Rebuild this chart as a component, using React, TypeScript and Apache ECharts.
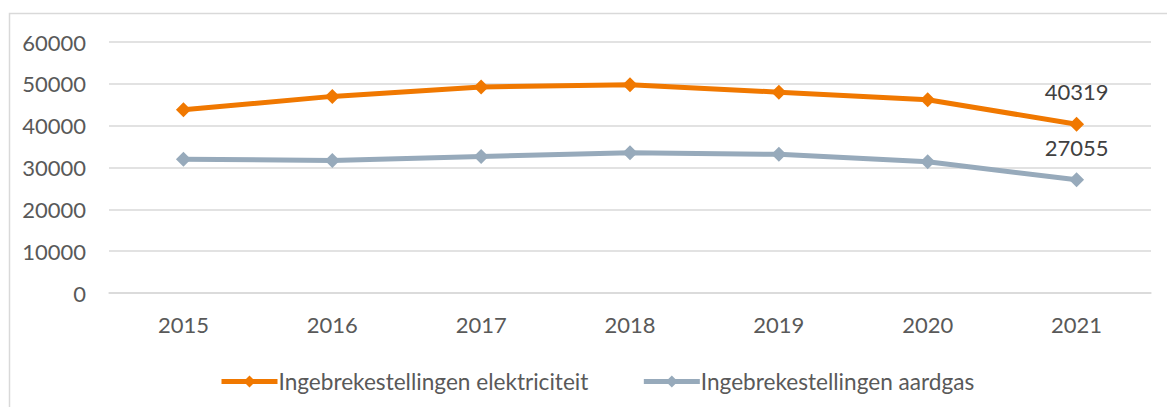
import React, { useEffect, useRef } from "react";
import * as echarts from "echarts";

const categories = ["2015", "2016", "2017", "2018", "2019", "2020", "2021"];
const elektriciteit = [43800, 47000, 49250, 49800, 48000, 46200, 40319];
const aardgas = [32000, 31700, 32650, 33550, 33150, 31380, 27055];
const seriesNames = ["Ingebrekestellingen elektriciteit", "Ingebrekestellingen aardgas"];

const FONT = "Lato, 'Open Sans', sans-serif";
const FS = 22;

export default function App() {
  const ref = useRef<HTMLDivElement>(null);
  useEffect(() => {
    if (!ref.current) return;
    const chart = echarts.init(ref.current, undefined, { renderer: "svg" });
    const lastLabel = (color: string) => ({
      show: true,
      position: "top",
      distance: 14,
      color,
      fontSize: FS,
      fontFamily: FONT,
      formatter: (p: any) => (p.dataIndex === categories.length - 1 ? String(p.value) : ""),
    });
    chart.setOption({
      animation: false,
      backgroundColor: "#ffffff",
      textStyle: { fontFamily: FONT },
      graphic: [
        {
          type: "rect",
          shape: { x: 9.5, y: 13.5, width: 1300, height: 600 },
          style: { fill: "none", stroke: "#d9d9d9", lineWidth: 1.5 },
          silent: true,
        },
      ],
      grid: { left: 109, right: 16, top: 42, bottom: 114 },
      legend: {
        top: 365,
        left: 214,
        itemWidth: 56,
        itemHeight: 15,
        itemGap: 53,
        lineStyle: { width: 5 },
        textStyle: { color: "#595959", fontSize: 22.6, fontFamily: FONT, padding: [0, 0, 0, -4] },
        data: seriesNames,
      },
      xAxis: {
        type: "category",
        data: categories,
        boundaryGap: true,
        axisLine: { show: true, lineStyle: { color: "#d9d9d9", width: 1.5 } },
        axisTick: { show: false },
        axisLabel: { color: "#595959", fontSize: FS, fontFamily: FONT, margin: 20 },
      },
      yAxis: {
        type: "value",
        min: 0,
        max: 60000,
        interval: 10000,
        axisLine: { show: false },
        axisTick: { show: false },
        axisLabel: {
          color: "#595959",
          fontSize: FS,
          fontFamily: FONT,
          margin: 23,
          formatter: (v: number) => String(v),
        },
        splitLine: { lineStyle: { color: "#d9d9d9", width: 1.5 } },
      },
      series: [
        {
          name: seriesNames[0],
          type: "line",
          data: elektriciteit,
          symbol: "diamond",
          symbolSize: 15,
          lineStyle: { color: "#F07800", width: 5 },
          itemStyle: { color: "#F07800" },
          label: lastLabel("#404040"),
        },
        {
          name: seriesNames[1],
          type: "line",
          data: aardgas,
          symbol: "diamond",
          symbolSize: 15,
          lineStyle: { color: "#97AABB", width: 5 },
          itemStyle: { color: "#97AABB" },
          label: lastLabel("#404040"),
        },
      ],
    });
    return () => chart.dispose();
  }, []);
  return (
    <div
      ref={ref}
      style={{ position: "fixed", left: 0, top: 0, width: 1167, height: 407, background: "#fff" }}
    />
  );
}
